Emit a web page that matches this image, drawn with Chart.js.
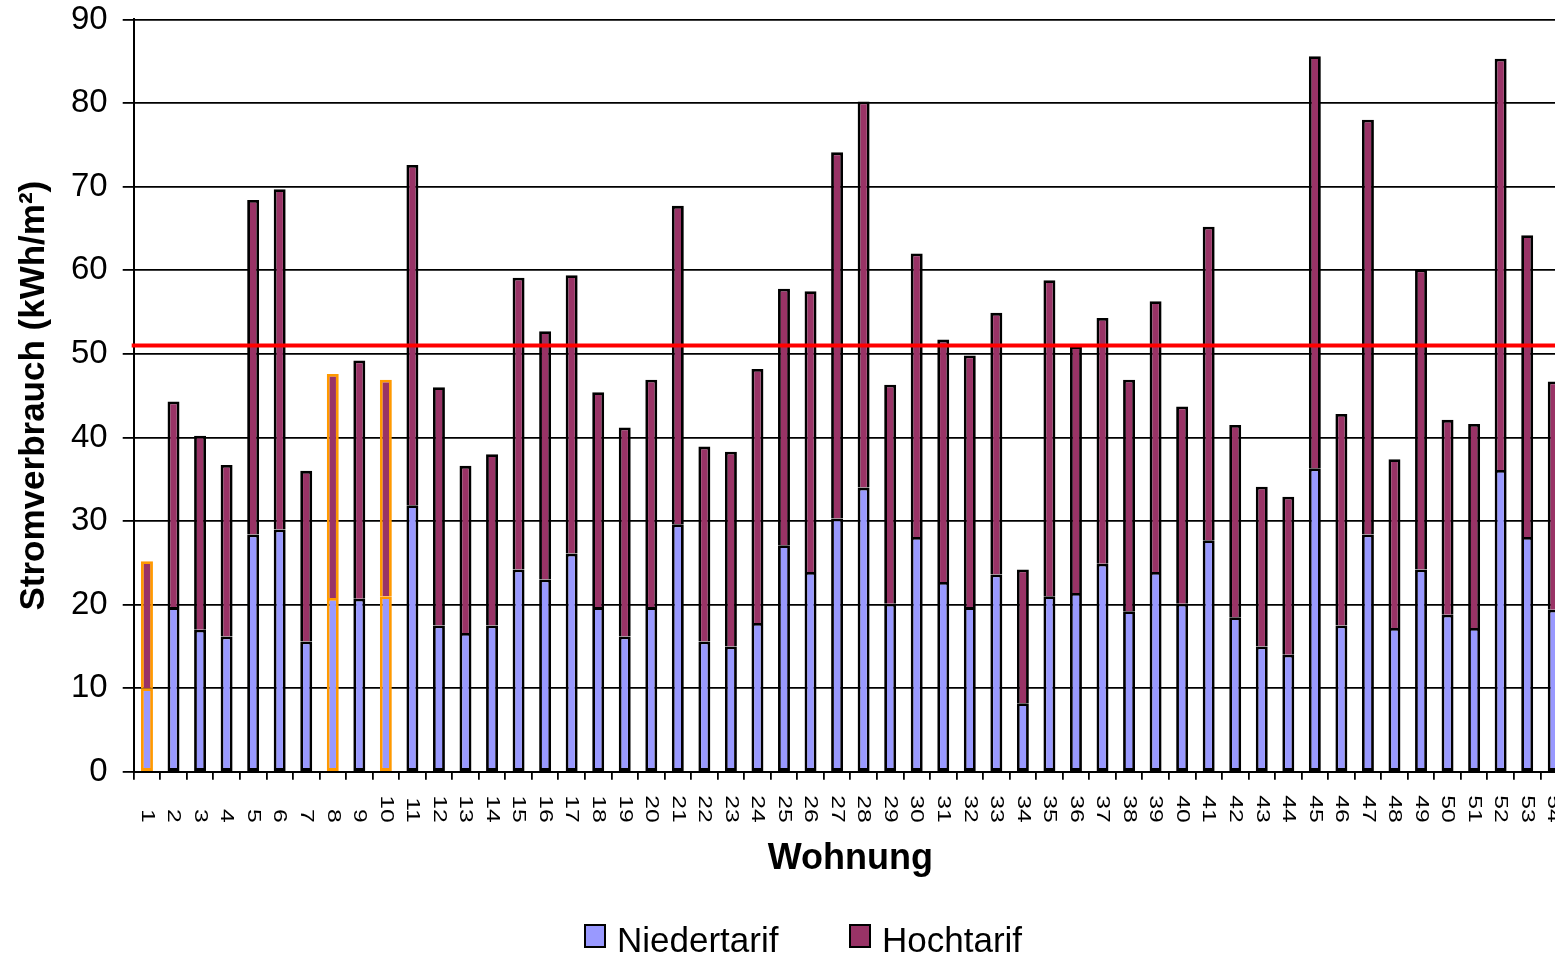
<!DOCTYPE html>
<html lang="de">
<head>
<meta charset="utf-8">
<title>Stromverbrauch je Wohnung</title>
<script src="https://cdn.jsdelivr.net/npm/chart.js@4.4.1/dist/chart.umd.min.js"></script>
<style>
  html, body { margin: 0; padding: 0; background: #fff; overflow: hidden; }
  #wrap { position: relative; width: 1567px; height: 957px; }
  #legende .item { position: absolute; top: 920px; height: 40px; line-height: 40px; display: flex; align-items: center;
    font: 35px "Liberation Sans", Arial, sans-serif; color: #000; white-space: nowrap; }
  #legende .box { width: 22px; height: 24px; box-sizing: border-box; border: 2px solid #000;
    margin-right: 11px; position: relative; top: -4px; }
</style>
</head>
<body>
<div id="wrap">
  <canvas id="chart" width="1567" height="957"></canvas>
  <div id="legende"></div>
</div>
<script>
// Daten
const wohnungen = ['1','2','3','4','5','6','7','8','9','10','11','12','13','14','15','16','17','18',
  '19','20','21','22','23','24','25','26','27','28','29','30','31','32','33','34','35','36',
  '37','38','39','40','41','42','43','44','45','46','47','48','49','50','51','52','53','54'];

const niedertarif = [10.0, 19.7, 17.0, 16.2, 28.4, 29.0, 15.6, 20.8, 20.7, 21.0,
  31.9, 17.5, 16.6, 17.5, 24.2, 23.0, 26.1, 19.7, 16.2, 19.7,
  29.6, 15.6, 15.0, 17.8, 27.1, 23.9, 30.3, 34.0, 20.1, 28.1,
  22.7, 19.7, 23.6, 8.2, 21.0, 21.4, 24.9, 19.2, 23.9, 20.1,
  27.7, 18.5, 15.0, 14.0, 36.3, 17.5, 28.4, 17.2, 24.2, 18.8,
  17.2, 36.1, 28.1, 19.4];

const hochtarif = [15.2, 24.6, 23.2, 20.5, 40.0, 40.7, 20.4, 26.8, 28.5, 25.9,
  40.7, 28.5, 20.0, 20.5, 34.9, 29.7, 33.3, 25.7, 25.0, 27.2,
  38.1, 23.3, 23.3, 30.4, 30.7, 33.6, 43.8, 46.2, 26.2, 33.9,
  29.0, 30.1, 31.3, 16.0, 37.8, 29.5, 29.4, 27.7, 32.4, 23.6,
  37.5, 23.0, 19.1, 18.9, 49.3, 25.3, 49.6, 20.2, 35.9, 23.3,
  24.4, 49.2, 36.1, 27.3];

const markiert = ['1', '8', '10'];   // orange umrandet
const grenzwert = 51;                // rote Linie
const yTicks = [0, 10, 20, 30, 40, 50, 60, 70, 80, 90];

const FONT = '"Liberation Sans", Arial, sans-serif';
Chart.defaults.font.family = FONT;
Chart.defaults.color = '#000';

// Randfarbe je Balken
const rand = wohnungen.map(w => markiert.includes(w) ? '#ff9900' : '#000000');

// rote Grenzwertlinie über den Balken
const grenzLinie = {
  id: 'grenzLinie',
  afterDatasetsDraw(chart) {
    const {ctx, chartArea, scales} = chart;
    const y = scales.y.getPixelForValue(grenzwert);
    ctx.save();
    ctx.strokeStyle = '#ff0000';
    ctx.lineWidth = 4;
    ctx.beginPath();
    ctx.moveTo(chartArea.left - 2, y);
    ctx.lineTo(chartArea.right, y);
    ctx.stroke();
    ctx.restore();
  }
};

// Kategorienbeschriftung, im Uhrzeigersinn gedreht (wie Excel), etwas gestreckt
const xBeschriftung = {
  id: 'xBeschriftung',
  afterDraw(chart) {
    const {ctx, scales, chartArea} = chart;
    ctx.save();
    ctx.font = '19px ' + FONT;
    ctx.fillStyle = '#000';
    ctx.textAlign = 'right';
    ctx.textBaseline = 'middle';
    wohnungen.forEach((w, i) => {
      ctx.save();
      ctx.translate(scales.x.getPixelForTick(i), chartArea.bottom + 51);
      ctx.rotate(Math.PI / 2);
      ctx.scale(1.3, 1);
      ctx.fillText(w, 0, 0);
      ctx.restore();
    });
    ctx.restore();
  }
};

const chart = new Chart(document.getElementById('chart'), {
  type: 'bar',
  data: {
    labels: wohnungen,
    datasets: [
      { label: 'Niedertarif', data: niedertarif, backgroundColor: '#9999ff',
        borderColor: rand, borderWidth: 2.8, borderSkipped: false },
      { label: 'Hochtarif', data: hochtarif, backgroundColor: '#993366',
        borderColor: rand, borderWidth: 2.8, borderSkipped: 'bottom' }
    ]
  },
  options: {
    responsive: false,
    animation: false,
    events: [],
    layout: { padding: 0 },
    datasets: { bar: { barPercentage: 0.45, categoryPercentage: 1, inflateAmount: 0 } },
    plugins: { legend: { display: false }, tooltip: { enabled: false } },
    scales: {
      x: {
        stacked: true,
        ticks: { display: false },
        grid: { drawOnChartArea: false, drawTicks: true, tickLength: 8, color: '#000', lineWidth: 1.8 },
        border: { display: true, color: '#000', width: 2 },
        title: { display: true, text: 'Wohnung', color: '#000',
          font: { size: 36, weight: 'bold', lineHeight: 1.2 }, padding: { top: 58, bottom: 76 } }
      },
      y: {
        stacked: true,
        min: 0, max: 90,
        afterBuildTicks: axis => { axis.ticks = yTicks.map(v => ({ value: v })); },
        ticks: { font: { size: 33, lineHeight: 0.27 }, color: '#000', padding: 15 },
        grid: { color: '#000', lineWidth: 1.8, drawTicks: true, tickLength: 11 },
        border: { display: true, color: '#000', width: 2 },
        title: { display: true, text: 'Stromverbrauch (kWh/m²)', color: '#000',
          font: { size: 35, weight: 'bold', lineHeight: 1.2 }, padding: { top: 13, bottom: 1 } }
      }
    }
  },
  plugins: [grenzLinie, xBeschriftung]
});

// Legende (HTML) aus den Datensätzen
const legende = document.getElementById('legende');
const legendeX = [584, 849];
chart.data.datasets.forEach((ds, i) => {
  const item = document.createElement('div');
  item.className = 'item';
  item.style.left = legendeX[i] + 'px';
  const box = document.createElement('span');
  box.className = 'box';
  box.style.background = ds.backgroundColor;
  item.appendChild(box);
  item.appendChild(document.createTextNode(ds.label));
  legende.appendChild(item);
});
</script>
</body>
</html>
